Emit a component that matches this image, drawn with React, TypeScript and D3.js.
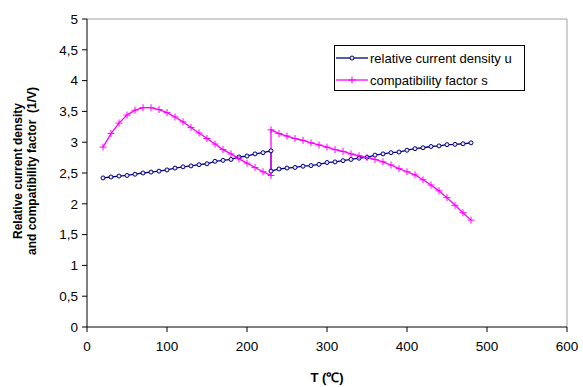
import React from "react";
import * as d3 from "d3";

const tempsA = [20, 30, 40, 50, 60, 70, 80, 90, 100, 110, 120, 130, 140, 150, 160, 170, 180, 190, 200, 210, 220, 230];
const tempsB = [230, 240, 250, 260, 270, 280, 290, 300, 310, 320, 330, 340, 350, 360, 370, 380, 390, 400, 410, 420, 430, 440, 450, 460, 470, 480];

const uA = [2.42, 2.435, 2.45, 2.46, 2.48, 2.5, 2.515, 2.53, 2.55, 2.58, 2.6, 2.615, 2.635, 2.65, 2.69, 2.705, 2.72, 2.76, 2.775, 2.81, 2.83, 2.86];
const uB = [2.53, 2.565, 2.58, 2.59, 2.61, 2.62, 2.64, 2.67, 2.68, 2.7, 2.72, 2.74, 2.755, 2.79, 2.81, 2.83, 2.84, 2.87, 2.895, 2.91, 2.93, 2.94, 2.96, 2.965, 2.975, 2.99];

const sA = [2.92, 3.14, 3.31, 3.44, 3.52, 3.56, 3.56, 3.53, 3.48, 3.41, 3.33, 3.24, 3.15, 3.06, 2.97, 2.88, 2.81, 2.73, 2.66, 2.59, 2.52, 2.46];
const sB = [3.2, 3.14, 3.1, 3.06, 3.03, 2.99, 2.955, 2.92, 2.88, 2.85, 2.81, 2.78, 2.75, 2.72, 2.68, 2.63, 2.57, 2.52, 2.47, 2.39, 2.305, 2.21, 2.1, 1.975, 1.855, 1.735];

const xTicks = [0, 100, 200, 300, 400, 500, 600];
const yTicks = [0, 0.5, 1, 1.5, 2, 2.5, 3, 3.5, 4, 4.5, 5];
const seriesNames = ["relative current density u", "compatibility factor s"];

const FONT = "Liberation Sans, Arial, sans-serif";
const NAVY = "#000080";
const MAGENTA = "#FF00FF";

export default function App() {
  const x = d3.scaleLinear().domain([0, 600]).range([87, 567]);
  const y = d3.scaleLinear().domain([0, 5]).range([327, 19]);

  const uPts: [number, number][] = [
    ...tempsA.map((t, i) => [t, uA[i]] as [number, number]),
    ...tempsB.map((t, i) => [t, uB[i]] as [number, number]),
  ];
  const sPts: [number, number][] = [
    ...tempsA.map((t, i) => [t, sA[i]] as [number, number]),
    ...tempsB.map((t, i) => [t, sB[i]] as [number, number]),
  ];
  const line = d3
    .line<[number, number]>()
    .x((d) => x(d[0]))
    .y((d) => y(d[1]));

  const fmt = (v: number) => String(v).replace(".", ",");

  return (
    <svg
      width={583}
      height={387}
      style={{ position: "absolute", left: 0, top: 0, background: "#fff" }}
      fontFamily={FONT}
    >
      {/* plot frame */}
      <line x1={x(0)} x2={x(600)} y1={y(5)} y2={y(5)} stroke="#a0a0a0" strokeWidth={1} />
      <line x1={x(600)} x2={x(600)} y1={y(5)} y2={y(0)} stroke="#a0a0a0" strokeWidth={1} />
      <line x1={x(0)} x2={x(0)} y1={y(5)} y2={y(0)} stroke="#000" strokeWidth={1} />
      <line x1={x(0)} x2={x(600)} y1={y(0)} y2={y(0)} stroke="#000" strokeWidth={1} />

      {yTicks.map((v) => (
        <g key={"y" + v}>
          <line x1={x(0) - 5} x2={x(0)} y1={y(v)} y2={y(v)} stroke="#000" />
          <text x={x(0) - 9} y={y(v)} dy="0.36em" textAnchor="end" fontSize={13.5}>
            {fmt(v)}
          </text>
        </g>
      ))}
      {xTicks.map((v) => (
        <g key={"x" + v}>
          <line x1={x(v)} x2={x(v)} y1={y(0)} y2={y(0) + 5} stroke="#000" />
          <text x={x(v)} y={y(0) + 24} textAnchor="middle" fontSize={13.5}>
            {v}
          </text>
        </g>
      ))}

      <text x={327} y={382} textAnchor="middle" fontSize={13} fontWeight="bold">
        T (℃)
      </text>
      <g transform="translate(22,171) rotate(-90)">
        <text x={0} y={0} textAnchor="middle" fontSize={12} fontWeight="bold">
          Relative current density
        </text>
        <text x={0} y={14} textAnchor="middle" fontSize={12} fontWeight="bold" style={{ whiteSpace: "pre" }}>
          {"and compatibility factor  (1/V)"}
        </text>
      </g>

      {/* series */}
      <path d={line(uPts) || ""} fill="none" stroke={NAVY} strokeWidth={1.3} />
      <path d={line(sPts) || ""} fill="none" stroke={MAGENTA} strokeWidth={1.3} />
      {uPts.map((d, i) => (
        <circle key={"u" + i} cx={x(d[0])} cy={y(d[1])} r={2} fill="#e8e8ff" stroke={NAVY} strokeWidth={1} />
      ))}
      {sPts.map((d, i) => (
        <path
          key={"s" + i}
          d={`M${x(d[0]) - 3.5},${y(d[1])}h7M${x(d[0])},${y(d[1]) - 3.5}v7`}
          stroke={MAGENTA}
          strokeWidth={1}
        />
      ))}

      {/* legend */}
      <rect x={334.5} y={45.5} width={190} height={45} fill="#fff" stroke="#000" strokeWidth={1} />
      <line x1={336} x2={368} y1={58} y2={58} stroke={NAVY} strokeWidth={1.3} />
      <circle cx={352} cy={58} r={2} fill="#e8e8ff" stroke={NAVY} />
      <text x={370} y={58} dy="0.36em" fontSize={13}>
        {seriesNames[0]}
      </text>
      <line x1={336} x2={368} y1={80} y2={80} stroke={MAGENTA} strokeWidth={1.3} />
      <path d="M348.5,80h7M352,76.5v7" stroke={MAGENTA} />
      <text x={370} y={80} dy="0.36em" fontSize={13}>
        {seriesNames[1]}
      </text>
    </svg>
  );
}
